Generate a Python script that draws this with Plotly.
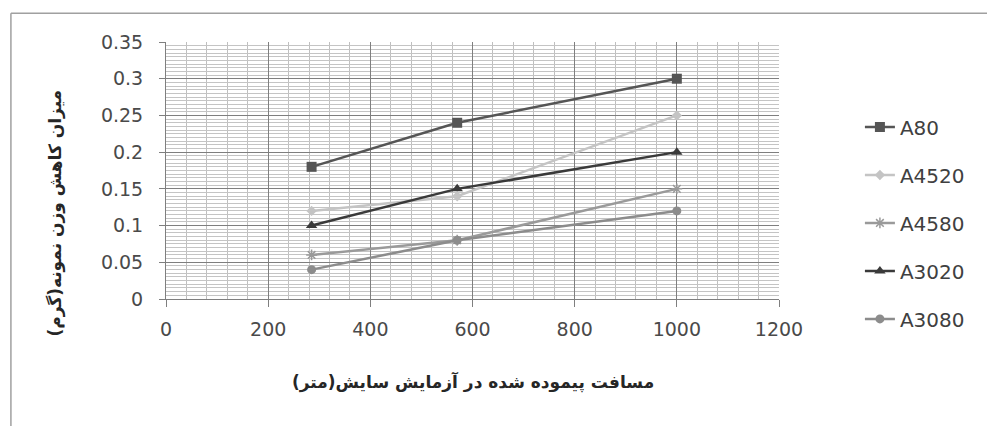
import plotly.graph_objects as go

# ---- data ----
distance = [285, 570, 1000]
series_names = ["A80", "A4520", "A4580", "A3020", "A3080"]
a80 = [0.18, 0.24, 0.30]
a4520 = [0.12, 0.14, 0.25]
a4580 = [0.06, 0.08, 0.15]
a3020 = [0.10, 0.15, 0.20]
a3080 = [0.04, 0.08, 0.12]
x_ticks = [0, 200, 400, 600, 800, 1000, 1200]
y_ticks = [0, 0.05, 0.10, 0.15, 0.20, 0.25, 0.30, 0.35]
y_tick_labels = ["0", "0.05", "0.1", "0.15", "0.2", "0.25", "0.3", "0.35"]
x_title = "مسافت پیموده شده در آزمایش سایش(متر)"
y_title = "میزان کاهش وزن نمونه(گرم)"

values = [a80, a4520, a4580, a3020, a3080]
colors = ["#555555", "#c4c4c4", "#9a9a9a", "#3a3a3a", "#8c8c8c"]
symbols = ["square", "diamond", "asterisk-open", "triangle-up", "circle"]
sizes = [10, 8, 9, 10, 9]

fig = go.Figure()
for name, vals, col, sym, sz in zip(series_names, values, colors, symbols, sizes):
    fig.add_trace(go.Scatter(
        x=distance, y=vals, name=name, legendgroup=name,
        mode="lines+markers",
        line=dict(color=col, width=2.5),
        marker=dict(symbol=sym, size=sz, color=col,
                    line=dict(color=col, width=1.5 if sym == "asterisk-open" else 0)),
    ))

tick_font = dict(family="DejaVu Sans", size=19, color="#4a4a4a")
title_font = dict(family="DejaVu Sans", size=17, color="#262626", weight="bold")

fig.update_layout(
    width=987, height=426, autosize=False,
    margin=dict(l=166, r=208, t=42, b=127),
    paper_bgcolor="white", plot_bgcolor="white",
    showlegend=True,
    legend=dict(
        x=1.132, xanchor="left", y=0.296, yanchor="middle",
        font=dict(family="DejaVu Sans", size=20, color="#404040"),
        traceorder="grouped", tracegroupgap=19,
        bgcolor="rgba(0,0,0,0)",
    ),
    xaxis=dict(
        range=[0, 1200], tickvals=x_ticks, ticktext=[str(v) for v in x_ticks],
        showgrid=True, gridcolor="#7f7f7f", gridwidth=1,
        minor=dict(dtick=40, showgrid=True, gridcolor="#bfbfbf", gridwidth=1),
        showline=True, linecolor="#7f7f7f", linewidth=1,
        ticks="outside", ticklen=7, tickcolor="#7f7f7f",
        tickfont=tick_font, zeroline=False, ticklabelstandoff=6,
    ),
    yaxis=dict(
        range=[0, 0.35], tickvals=y_ticks, ticktext=y_tick_labels,
        showgrid=True, gridcolor="#7f7f7f", gridwidth=1,
        minor=dict(dtick=0.005, showgrid=True, gridcolor="#c4c4c4", gridwidth=1),
        showline=True, linecolor="#7f7f7f", linewidth=1,
        ticks="outside", ticklen=6, tickcolor="#7f7f7f",
        tickfont=tick_font, zeroline=False,
        ticklabelstandoff=12,
    ),
    annotations=[
        dict(text=x_title, xref="paper", yref="paper", x=0.5, y=-0.323,
             xanchor="center", yanchor="middle", showarrow=False, font=title_font),
        dict(text=y_title, xref="paper", yref="paper", x=-0.181, y=0.821,
             xanchor="center", yanchor="top", textangle=-90, showarrow=False, font=title_font),
    ],
    shapes=[
        dict(type="line", xref="paper", yref="paper", x0=-0.253, x1=1.4, y0=1.112, y1=1.112,
             line=dict(color="#a0a0a0", width=1.5)),
        dict(type="line", xref="paper", yref="paper", x0=-0.253, x1=-0.253, y0=1.112, y1=-0.6,
             line=dict(color="#a0a0a0", width=1.5)),
    ],
)

fig.write_html("out.html")
